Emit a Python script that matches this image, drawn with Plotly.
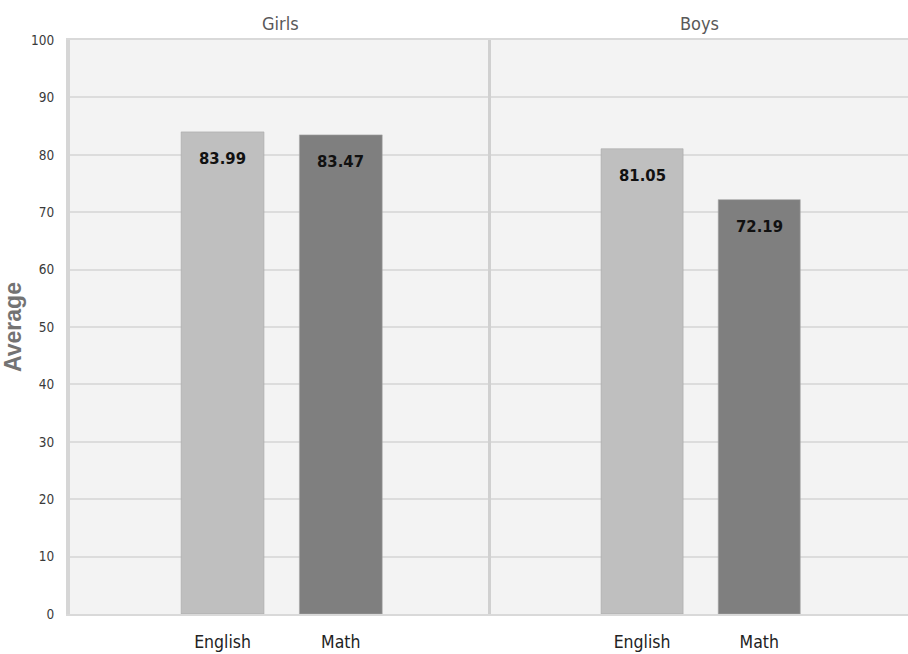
import plotly.graph_objects as go
from plotly.subplots import make_subplots

# Average scores by subject, split by group
groups = ["Girls", "Boys"]
subjects = ["English", "Math"]
girls_scores = [83.99, 83.47]
boys_scores = [81.05, 72.19]
bar_colors = ["#bfbfbf", "#7f7f7f"]
y_ticks = [0, 10, 20, 30, 40, 50, 60, 70, 80, 90, 100]

NARROW = "DejaVu Sans Condensed, DejaVu Sans"


def narrow(size, color, weight="normal"):
    return dict(family=NARROW, size=size, color=color, weight=weight)


fig = make_subplots(
    rows=1, cols=2, shared_yaxes=True, horizontal_spacing=0,
    column_widths=[421, 417], subplot_titles=groups,
)

for col, scores in enumerate([girls_scores, boys_scores], start=1):
    fig.add_trace(
        go.Bar(
            x=subjects, y=scores, width=0.7,
            marker=dict(color=bar_colors, line=dict(color="#a6a6a6", width=0.6)),
            showlegend=False, hoverinfo="skip",
        ),
        row=1, col=col,
    )
    xref = "x" if col == 1 else "x2"
    for subj, val in zip(subjects, scores):
        fig.add_annotation(
            x=subj, y=val, xref=xref, yref="y", text=f"{val:.2f}",
            showarrow=False, yanchor="top", yshift=-15,
            font=narrow(16.5, "#111111", "bold"),
        )

# style the group titles
for ann in fig.layout.annotations:
    if ann.text in groups:
        ann.font = narrow(18, "#595959")
        ann.yshift = 4

fig.update_xaxes(
    range=[-1.29, 2.27], showgrid=False, zeroline=False,
    showline=True, linecolor="#d9d9d9", linewidth=2, mirror=True,
    ticks="outside", ticklen=11, tickcolor="rgba(0,0,0,0)",
    tickfont=narrow(17.5, "#222222"),
)

fig.update_yaxes(
    range=[0, 100], tickvals=y_ticks, showgrid=True, gridcolor="#dcdcdc", gridwidth=1.5,
    zeroline=False, showline=True, linecolor="#d6d6d6", linewidth=4,
    ticks="outside", ticklen=9, tickcolor="rgba(0,0,0,0)",
    tickfont=narrow(13.5, "#3a3a3a"),
)
fig.update_yaxes(
    title=dict(text="Average",
               font=dict(family="Liberation Sans", size=23, color="#737373", weight="bold"),
               standoff=8),
    row=1, col=1,
)
fig.update_yaxes(showline=True, linecolor="#d0d0d0", linewidth=3, row=1, col=2)

fig.update_layout(
    width=908, height=654,
    margin=dict(l=70, r=0, t=40, b=40),
    paper_bgcolor="#ffffff", plot_bgcolor="#f3f3f3",
)

fig.write_html("out.html")
